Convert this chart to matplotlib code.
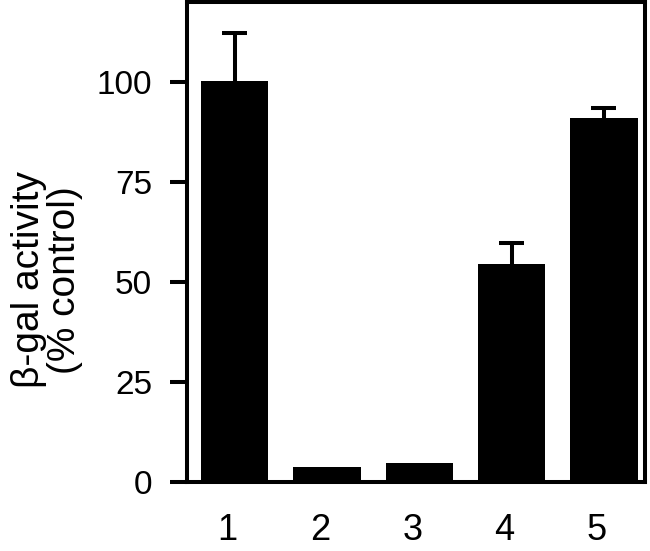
import matplotlib
matplotlib.use("Agg")
import matplotlib.pyplot as plt
import matplotlib.transforms as mtransforms
import numpy as np

categories = ["1", "2", "3", "4", "5"]
values = [100.3, 3.8, 4.8, 54.5, 91.0]
errors = [12.0, 0.0, 0.0, 5.3, 2.5]
yticks = [0, 25, 50, 75, 100]

plt.rcParams['font.family'] = ['Liberation Sans', 'DejaVu Sans']

fig = plt.figure(figsize=(6.5, 5.51), dpi=100)
ax = fig.add_axes([187/650, 1 - 482/551, (645-187)/650, (482-2)/551])

x = np.arange(1, len(categories) + 1)
vals = np.array(values)
errs = np.array(errors)
ax.bar(x, vals, width=0.73, color='black', zorder=2)

has_err = errs > 0
ax.vlines(x[has_err], vals[has_err], vals[has_err] + errs[has_err],
          color='black', linewidth=2.9, zorder=1)
cap_half = 0.135
ax.hlines(vals[has_err] + errs[has_err], x[has_err] - cap_half, x[has_err] + cap_half,
          color='black', linewidth=2.9, zorder=1)

ax.set_xlim(0.485, 5.445)
ax.set_ylim(0, 120)
ax.set_yticks(yticks)
ax.set_yticklabels([str(t) for t in yticks], fontsize=24)
ax.set_xticks(x)
ax.set_xticklabels(categories, fontsize=26)

for s in ax.spines.values():
    s.set_linewidth(2.9)
ax.tick_params(axis='y', length=12, width=2.9, pad=13)
ax.tick_params(axis='x', length=0, pad=22)

offset = mtransforms.ScaledTranslation(-7/100, 0, fig.dpi_scale_trans)
for lbl in ax.get_xticklabels():
    lbl.set_transform(lbl.get_transform() + offset)

fig.text(47/650, 1 - 280/551, "β-gal activity\n(% control)", rotation=90,
         ha='center', va='center', multialignment='center', fontsize=28,
         linespacing=1.0)

fig.savefig("out.png", dpi=100)
